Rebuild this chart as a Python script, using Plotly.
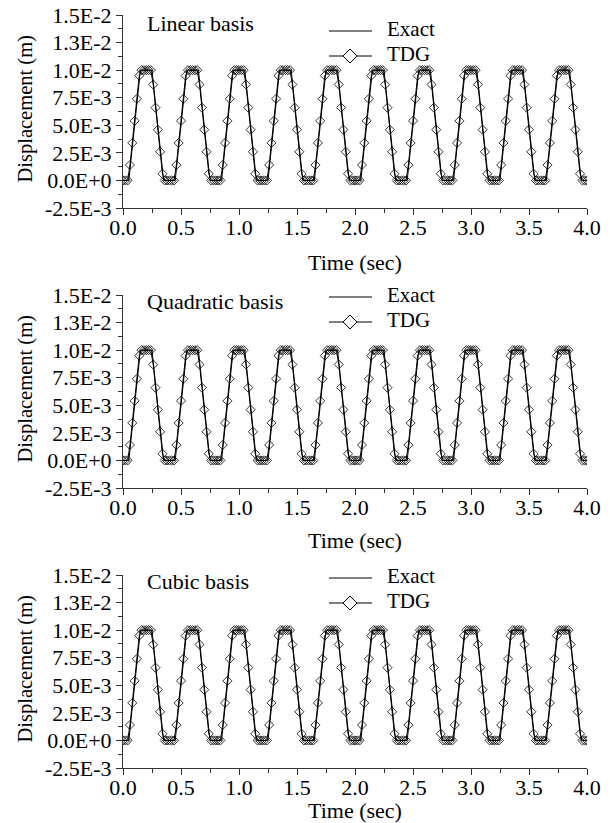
import plotly.graph_objects as go

# ---------------- data ----------------
time_tdg = [
    0.00, 0.02, 0.04, 0.06, 0.08, 0.10, 0.12, 0.14, 0.16, 0.18, 0.20, 0.22, 0.24, 0.26, 0.28, 0.30, 0.32, 0.34, 0.36, 0.38,
    0.40, 0.42, 0.44, 0.46, 0.48, 0.50, 0.52, 0.54, 0.56, 0.58, 0.60, 0.62, 0.64, 0.66, 0.68, 0.70, 0.72, 0.74, 0.76, 0.78,
    0.80, 0.82, 0.84, 0.86, 0.88, 0.90, 0.92, 0.94, 0.96, 0.98, 1.00, 1.02, 1.04, 1.06, 1.08, 1.10, 1.12, 1.14, 1.16, 1.18,
    1.20, 1.22, 1.24, 1.26, 1.28, 1.30, 1.32, 1.34, 1.36, 1.38, 1.40, 1.42, 1.44, 1.46, 1.48, 1.50, 1.52, 1.54, 1.56, 1.58,
    1.60, 1.62, 1.64, 1.66, 1.68, 1.70, 1.72, 1.74, 1.76, 1.78, 1.80, 1.82, 1.84, 1.86, 1.88, 1.90, 1.92, 1.94, 1.96, 1.98,
    2.00, 2.02, 2.04, 2.06, 2.08, 2.10, 2.12, 2.14, 2.16, 2.18, 2.20, 2.22, 2.24, 2.26, 2.28, 2.30, 2.32, 2.34, 2.36, 2.38,
    2.40, 2.42, 2.44, 2.46, 2.48, 2.50, 2.52, 2.54, 2.56, 2.58, 2.60, 2.62, 2.64, 2.66, 2.68, 2.70, 2.72, 2.74, 2.76, 2.78,
    2.80, 2.82, 2.84, 2.86, 2.88, 2.90, 2.92, 2.94, 2.96, 2.98, 3.00, 3.02, 3.04, 3.06, 3.08, 3.10, 3.12, 3.14, 3.16, 3.18,
    3.20, 3.22, 3.24, 3.26, 3.28, 3.30, 3.32, 3.34, 3.36, 3.38, 3.40, 3.42, 3.44, 3.46, 3.48, 3.50, 3.52, 3.54, 3.56, 3.58,
    3.60, 3.62, 3.64, 3.66, 3.68, 3.70, 3.72, 3.74, 3.76, 3.78, 3.80, 3.82, 3.84, 3.86, 3.88, 3.90, 3.92, 3.94, 3.96, 3.98,
    4.00,
]

# TDG displacement (m) (same in all three panels)
disp_tdg = [
    0, 0, 0, 0.0014, 0.0034, 0.0054, 0.0074, 0.0095, 0.0100, 0.0100, 0.0100, 0.0100, 0.0100, 0.0087, 0.0066, 0.0046, 0.0026, 0.0006, 0, 0,
    0, 0, 0, 0.0014, 0.0034, 0.0054, 0.0074, 0.0095, 0.0100, 0.0100, 0.0100, 0.0100, 0.0100, 0.0087, 0.0066, 0.0046, 0.0026, 0.0006, 0, 0,
    0, 0, 0, 0.0014, 0.0034, 0.0054, 0.0074, 0.0095, 0.0100, 0.0100, 0.0100, 0.0100, 0.0100, 0.0087, 0.0066, 0.0046, 0.0026, 0.0006, 0, 0,
    0, 0, 0, 0.0014, 0.0034, 0.0054, 0.0074, 0.0095, 0.0100, 0.0100, 0.0100, 0.0100, 0.0100, 0.0087, 0.0066, 0.0046, 0.0026, 0.0006, 0, 0,
    0, 0, 0, 0.0014, 0.0034, 0.0054, 0.0074, 0.0095, 0.0100, 0.0100, 0.0100, 0.0100, 0.0100, 0.0087, 0.0066, 0.0046, 0.0026, 0.0006, 0, 0,
    0, 0, 0, 0.0014, 0.0034, 0.0054, 0.0074, 0.0095, 0.0100, 0.0100, 0.0100, 0.0100, 0.0100, 0.0087, 0.0066, 0.0046, 0.0026, 0.0006, 0, 0,
    0, 0, 0, 0.0014, 0.0034, 0.0054, 0.0074, 0.0095, 0.0100, 0.0100, 0.0100, 0.0100, 0.0100, 0.0087, 0.0066, 0.0046, 0.0026, 0.0006, 0, 0,
    0, 0, 0, 0.0014, 0.0034, 0.0054, 0.0074, 0.0095, 0.0100, 0.0100, 0.0100, 0.0100, 0.0100, 0.0087, 0.0066, 0.0046, 0.0026, 0.0006, 0, 0,
    0, 0, 0, 0.0014, 0.0034, 0.0054, 0.0074, 0.0095, 0.0100, 0.0100, 0.0100, 0.0100, 0.0100, 0.0087, 0.0066, 0.0046, 0.0026, 0.0006, 0, 0,
    0, 0, 0, 0.0014, 0.0034, 0.0054, 0.0074, 0.0095, 0.0100, 0.0100, 0.0100, 0.0100, 0.0100, 0.0087, 0.0066, 0.0046, 0.0026, 0.0006, 0, 0,
    0,
]

# Exact solution: corner points of the trapezoidal response
time_exact = [0.00, 0.05, 0.15, 0.25, 0.35, 0.45, 0.55, 0.65, 0.75, 0.85, 0.95, 1.05, 1.15, 1.25, 1.35,
              1.45, 1.55, 1.65, 1.75, 1.85, 1.95, 2.05, 2.15, 2.25, 2.35, 2.45, 2.55, 2.65, 2.75, 2.85,
              2.95, 3.05, 3.15, 3.25, 3.35, 3.45, 3.55, 3.65, 3.75, 3.85, 3.95, 4.00]
disp_exact = [0, 0, 0.01, 0.01, 0, 0, 0.01, 0.01, 0, 0, 0.01, 0.01, 0, 0, 0.01,
              0.01, 0, 0, 0.01, 0.01, 0, 0, 0.01, 0.01, 0, 0, 0.01, 0.01, 0, 0,
              0.01, 0.01, 0, 0, 0.01, 0.01, 0, 0, 0.01, 0.01, 0, 0]

panel_titles = ["Linear basis", "Quadratic basis", "Cubic basis"]
legend_labels = ["Exact", "TDG"]
y_tickvals = [-0.0025, 0.0, 0.0025, 0.005, 0.0075, 0.01, 0.0125, 0.015]
y_ticktext = ["-2.5E-3", "0.0E+0", "2.5E-3", "5.0E-3", "7.5E-3", "1.0E-2", "1.3E-2", "1.5E-2"]
x_tickvals = [0.0, 0.5, 1.0, 1.5, 2.0, 2.5, 3.0, 3.5, 4.0]
x_ticktext = ["0.0", "0.5", "1.0", "1.5", "2.0", "2.5", "3.0", "3.5", "4.0"]

# ---------------- layout ----------------
W, H = 610, 823
FONT = "Liberation Serif, Times New Roman, serif"
FS = 22
AX = "#333333"


def px(x):
    return x / W


def py(y):
    return 1 - y / H


x_dom = [px(123), px(587)]
panels_px = [(15, 208), (295, 488), (575, 768)]      # plot (top, bottom) pixels
title_y = [23, 301, 581]                              # panel title centre
legend_y = [(31, 56), (297, 322), (578, 603)]         # legend rows (Exact, TDG)
xtitle_y = [262, 540, 810]                            # "Time (sec)" centre

fig = go.Figure()

for i in range(3):
    xa = "x" if i == 0 else f"x{i+1}"
    ya = "y" if i == 0 else f"y{i+1}"
    fig.add_trace(go.Scatter(
        x=time_exact, y=disp_exact, mode="lines", name="Exact",
        line=dict(color="black", width=1), xaxis=xa, yaxis=ya, showlegend=False))
    fig.add_trace(go.Scatter(
        x=time_tdg, y=disp_tdg, mode="lines+markers", name="TDG",
        line=dict(color="black", width=1),
        marker=dict(symbol="diamond-open", size=7, color="black", line=dict(width=0.8)),
        xaxis=xa, yaxis=ya, showlegend=False))

layout = dict(
    width=W, height=H,
    margin=dict(l=0, r=0, t=0, b=0),
    paper_bgcolor="white", plot_bgcolor="white",
    font=dict(family=FONT, size=FS, color="black"),
    showlegend=False,
    annotations=[], shapes=[],
)

for i, (top, bot) in enumerate(panels_px):
    sfx = "" if i == 0 else str(i + 1)
    layout[f"xaxis{sfx}"] = dict(
        domain=x_dom, range=[0, 4.0], anchor=f"y{sfx}",
        tickvals=x_tickvals, ticktext=x_ticktext,
        ticks="outside", ticklen=6, tickwidth=1, tickcolor=AX,
        ticklabelstandoff=-6,
        minor=dict(dtick=0.25, tick0=0, ticks="outside", ticklen=4, tickcolor=AX, showgrid=False),
        showline=True, linecolor=AX, linewidth=1,
        showgrid=False, zeroline=False, automargin=False,
        tickfont=dict(family=FONT, size=FS),
    )
    layout[f"yaxis{sfx}"] = dict(
        domain=[py(bot), py(top)], range=[-0.0025, 0.015], anchor=f"x{sfx}",
        tickvals=y_tickvals, ticktext=y_ticktext,
        ticks="outside", ticklen=6, tickwidth=1, tickcolor=AX,
        minor=dict(dtick=0.00125, tick0=0, ticks="outside", ticklen=4, tickcolor=AX, showgrid=False),
        showline=True, linecolor=AX, linewidth=1,
        showgrid=False, zeroline=False, automargin=False,
        tickfont=dict(family=FONT, size=FS),
    )
    ann = layout["annotations"]
    # panel title
    ann.append(dict(text=panel_titles[i], xref="paper", yref="paper",
                    x=px(145), y=py(title_y[i]), xanchor="left", yanchor="middle",
                    showarrow=False, font=dict(family=FONT, size=FS)))
    # axis titles
    ann.append(dict(text="Time (sec)", xref="paper", yref="paper",
                    x=px(355), y=py(xtitle_y[i]), xanchor="center", yanchor="middle",
                    showarrow=False, font=dict(family=FONT, size=FS)))
    ann.append(dict(text="Displacement (m)", xref="paper", yref="paper", textangle=-90,
                    x=px(25), y=py((top + bot) / 2 - 2), xanchor="center", yanchor="middle",
                    showarrow=False, font=dict(family=FONT, size=20.5)))
    # custom legend
    ye, yt = legend_y[i]
    for yy, lab in zip((ye, yt), legend_labels):
        layout["shapes"].append(dict(type="line", xref="paper", yref="paper",
                                     x0=px(329), x1=px(372), y0=py(yy), y1=py(yy),
                                     line=dict(color="black", width=1)))
        ann.append(dict(text=lab, xref="paper", yref="paper",
                        x=px(385), y=py(yy - 2), xanchor="left", yanchor="middle",
                        showarrow=False, font=dict(family=FONT, size=21)))
    cx, hw = 350, 7
    layout["shapes"].append(dict(
        type="path", xref="paper", yref="paper",
        path=(f"M {px(cx - hw)},{py(yt)} L {px(cx)},{py(yt - hw)} "
              f"L {px(cx + hw)},{py(yt)} L {px(cx)},{py(yt + hw)} Z"),
        fillcolor="white", line=dict(color="black", width=1)))

fig.update_layout(**layout)
fig.write_html("out.html", config={"displayModeBar": False},
               post_script="document.body.style.margin='0px';document.body.style.overflow='hidden';")
